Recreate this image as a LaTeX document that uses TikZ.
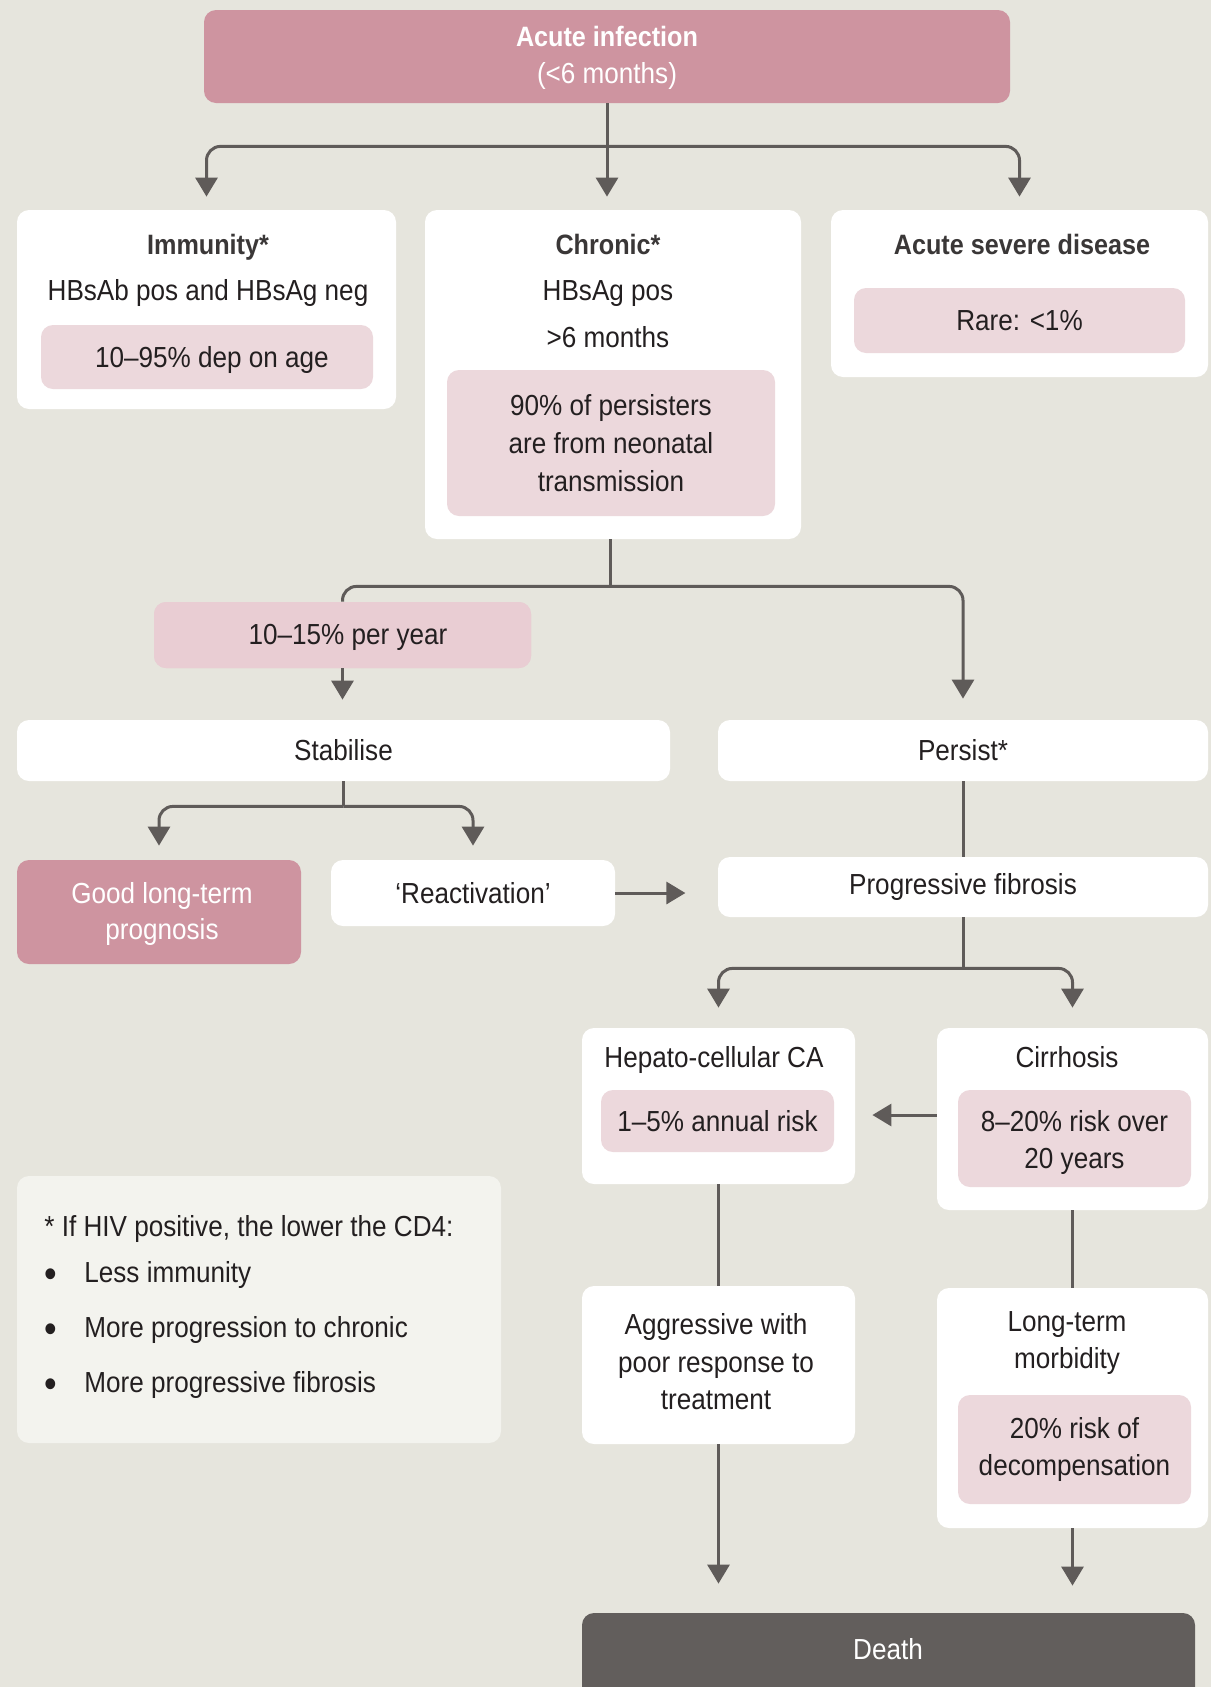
\documentclass[tikz,border=0pt]{standalone}
\usepackage{fontspec}
\setmainfont{Liberation Sans}[FakeStretch=0.9]
\usetikzlibrary{arrows.meta,calc}
\definecolor{bg}{HTML}{E6E5DD}
\definecolor{dpink}{HTML}{CE94A0}
\definecolor{lpink}{HTML}{ECD8DC}
\definecolor{mpink}{HTML}{E9CDD3}
\definecolor{conn}{HTML}{5F5B59}
\definecolor{txt}{HTML}{231F20}
\definecolor{ttlc}{HTML}{3A3737}
\definecolor{notebg}{HTML}{F3F3EE}
\definecolor{deathc}{HTML}{625E5C}
\begin{document}
\begin{tikzpicture}[x=0.5pt,y=-0.5pt,
  font=\fontsize{14.5}{18.5}\selectfont, text=txt,
  box/.style={rounded corners=6pt, inner sep=0pt, draw=none, align=center},
  wbox/.style={box, fill=white},
  pbox/.style={box, fill=lpink},
  tlabel/.style={inner sep=0pt, align=center},
  ttl/.style={tlabel, text=ttlc, font=\fontsize{14}{18}\selectfont\bfseries},
  bul/.style={tlabel, font=\fontsize{20}{20}\selectfont},
  line/.style={draw=conn, line width=1.5pt, rounded corners=7pt},
  arr/.style={line, -{Triangle[width=11pt,length=9.5pt]}}
]
\useasboundingbox (0,0) rectangle (1211,1687);
\clip (0,0) rectangle (1211,1687);
\fill[bg] (0,0) rectangle (1211,1687);

% ---------- boxes ----------
\node[box, fill=dpink, minimum width=403pt, minimum height=46.5pt] (acute) at (607,56.5) {};
\node[ttl, text=white] (acuteT) at (607,36) {Acute infection};
\node[tlabel, text=white] (acuteS) at (607,76) {(<6 months)};

\node[wbox, minimum width=189.5pt, minimum height=99.5pt] (imm) at (206.5,309.5) {};
\node[ttl] (immT) at (208,247) {Immunity*};
\node[tlabel] (immS) at (208,293) {HBsAb pos and HBsAg neg};
\node[pbox, minimum width=166pt, minimum height=32pt] (immP) at (207,357) {};
\node[tlabel] (immPT) at (212,360) {10–95\% dep on age};

\node[wbox, minimum width=188pt, minimum height=164.5pt] (chr) at (613,374.5) {};
\node[ttl] (chrT) at (608,244) {Chronic*};
\node[tlabel] (chrS1) at (608,294) {HBsAg pos};
\node[tlabel] (chrS2) at (608,337) {>6 months};
\node[pbox, minimum width=164pt, minimum height=73pt, font=\fontsize{14.5}{19}\selectfont] (chrP) at (611,443) {90\% of persisters\\are from neonatal\\transmission};

\node[wbox, minimum width=188.5pt, minimum height=83.5pt] (sev) at (1019.5,293.5) {};
\node[ttl] (sevT) at (1022,244) {Acute severe disease};
\node[pbox, minimum width=165.5pt, minimum height=32.5pt] (sevP) at (1019.5,320.5) {Rare: <1\%};

\node[wbox, minimum width=326.5pt, minimum height=30.5pt] (stab) at (343.5,750.5) {Stabilise};
\node[wbox, minimum width=245pt, minimum height=30.5pt] (pers) at (963,750.5) {Persist*};

\node[box, fill=dpink, minimum width=142pt, minimum height=52pt] (good) at (159,912) {};
\node[tlabel, text=white, font=\fontsize{14.5}{18}\selectfont] (goodT) at (162,914) {Good long-term\\prognosis};
\node[wbox, minimum width=142pt, minimum height=33pt] (react) at (473,893) {‘Reactivation’};

\node[wbox, minimum width=245pt, minimum height=30pt] (pf) at (963,887) {Progressive fibrosis};

\node[wbox, minimum width=136.5pt, minimum height=78pt] (hcc) at (718.5,1106) {};
\node[tlabel] (hccT) at (714,1060) {Hepato-cellular CA};
\node[pbox, minimum width=116.5pt, minimum height=31pt] (hccP) at (717.5,1121) {1–5\% annual risk};

\node[wbox, minimum width=135.5pt, minimum height=91pt] (cir) at (1072.5,1119) {};
\node[tlabel] (cirT) at (1067,1057) {Cirrhosis};
\node[pbox, minimum width=116.5pt, minimum height=48.5pt] (cirP) at (1074.5,1138.5) {};
\node[tlabel] (cirPT) at (1074.5,1142) {8–20\% risk over\\20 years};

\node[wbox, minimum width=136.5pt, minimum height=79pt] (agg) at (718.5,1365) {};
\node[tlabel, font=\fontsize{14.5}{18.75}\selectfont] (aggT) at (716,1362) {Aggressive with\\poor response to\\treatment};

\node[wbox, minimum width=135.5pt, minimum height=120pt] (ltm) at (1072.5,1408) {};
\node[tlabel] (ltmT) at (1067,1343) {Long-term\\morbidity};
\node[pbox, minimum width=116.5pt, minimum height=54.5pt] (ltmP) at (1074.5,1449.5) {20\% risk of\\decompensation};

\node[box, fill=deathc, minimum width=306.5pt, minimum height=43.5pt] (death) at (888.5,1656.5) {};
\node[tlabel, text=white] (deathT) at (888,1649) {Death};

% note
\node[box, fill=notebg, minimum width=242pt, minimum height=133.5pt] (note) at (259,1309.5) {};
\node[tlabel, anchor=west] (noteH) at (44,1229) {* If HIV positive, the lower the CD4:};
\node[bul] (b1) at (51,1278) {\textbullet};
\node[tlabel, anchor=west] (n1) at (84,1275) {Less immunity};
\node[bul] (b2) at (51,1333) {\textbullet};
\node[tlabel, anchor=west] (n2) at (84,1330) {More progression to chronic};
\node[bul] (b3) at (51,1388) {\textbullet};
\node[tlabel, anchor=west] (n3) at (84,1385) {More progressive fibrosis};

% ---------- connectors ----------
\coordinate (j1) at ($(acute.south)+(0,43)$);
\draw[line] (acute.south) -- (j1);
\draw[arr, shorten >=6.5pt] (j1) -| (imm.north);
\draw[arr, shorten >=6.5pt] (j1) -| (sev.north);
\draw[arr, shorten >=6.5pt] (acute.south) -- (acute.south |- chr.north);

\coordinate (j2) at ($(chr.south)+(-3,47)$);
\draw[line] (chr.south -| j2) -- (j2);
\draw[arr, shorten >=10.5pt] (j2) -| (pers.north);
\node[box, fill=mpink, minimum width=188.5pt, minimum height=33pt] (per) at (342.5,635) {};
\draw[line] (j2) -| (per.north);
\node[box, fill=mpink, minimum width=188.5pt, minimum height=33pt] (perCover) at (342.5,635) {};
\node[tlabel] (perT) at (348,637) {10–15\% per year};
\draw[arr, shorten >=10pt] (per.south) -- (per.south |- stab.north);

\coordinate (j3) at ($(stab.south)+(0,25)$);
\draw[line] (stab.south) -- (j3);
\draw[arr, shorten >=7pt] (j3) -| (good.north);
\draw[arr, shorten >=7pt] (j3) -| (react.north);

\coordinate (rend) at ($(react.east)+(70,0)$);
\draw[arr] (react.east) -- (rend);

\draw[line] (pers.south) -- (pers.south |- pf.north);
\coordinate (j4) at ($(pf.south)+(0,51)$);
\draw[line] (pf.south) -- (j4);
\draw[arr, shorten >=10pt] (j4) -| (hcc.north);
\draw[arr, shorten >=10pt] (j4) -| (cir.north);

\draw[arr, shorten >=8.5pt] ($(cir.west)+(0,-4)$) -- ($(cir.west -| hcc.east)+(0,-4)$);

\draw[line] (hcc.south) -- (agg.north);
\draw[line] (cir.south) -- (ltm.north);
\draw[arr, shorten >=14.5pt] (agg.south) -- (agg.south |- death.north);
\draw[arr, shorten >=13.5pt] (ltm.south) -- (ltm.south |- death.north);
\end{tikzpicture}
\end{document}
